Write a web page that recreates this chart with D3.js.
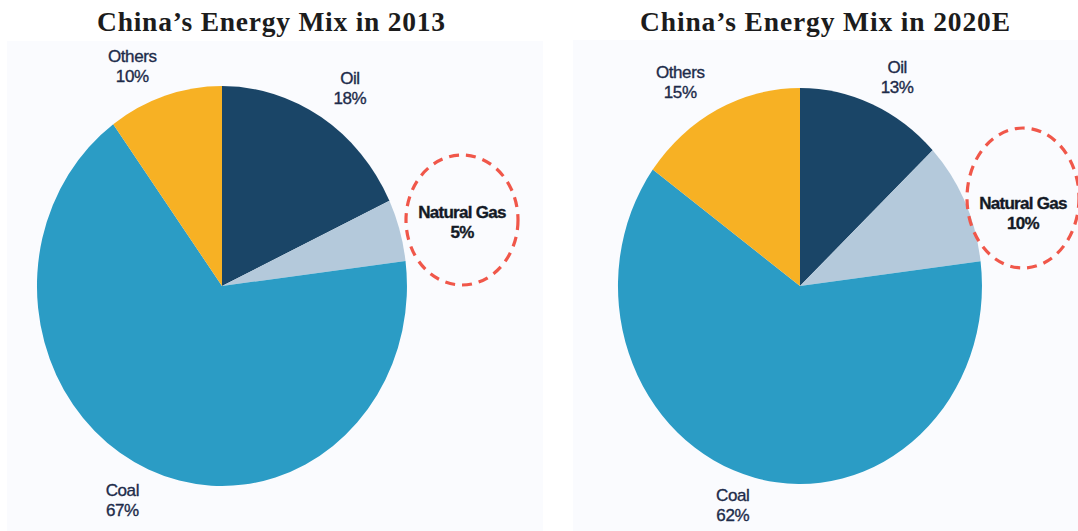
<!DOCTYPE html>
<html>
<head>
<meta charset="utf-8">
<script src="https://cdn.jsdelivr.net/npm/d3@7"></script>
<style>
  html, body { margin: 0; padding: 0; background: #ffffff; }
  svg { display: block; }
</style>
</head>
<body>
<svg id="chart" width="1078" height="531"></svg>
<script>
// Energy sources, clockwise from 12 o'clock
const sources = ["Oil", "Natural Gas", "Coal", "Others"];
const share2013 = [18, 5, 67, 10];
const share2020 = [13, 10, 62, 15];
const titles = ["China\u2019s Energy Mix in 2013", "China\u2019s Energy Mix in 2020E"];
const highlighted = "Natural Gas";

const colors = d3.scaleOrdinal()
  .domain(sources)
  .range(["#1a4567", "#b4c9db", "#2b9cc5", "#f7b124"]);

const svg = d3.select("#chart");

// per-panel layout
const panels = [
  { values: share2013, title: titles[0], titleX: 271, titleLen: 348,
    bg: [7, 41, 536, 490], cx: 222, cy: 286, rx: 185, ry: 200,
    ring: { cx: 462, cy: 220, rx: 56, ry: 65, labelY: 221.5 },
    nudge: { "Oil": [7, 0], "Coal": [-10, -1], "Others": [-20, 3] } },
  { values: share2020, title: titles[1], titleX: 825, titleLen: 370,
    bg: [573, 40, 505, 491], cx: 800, cy: 286, rx: 182, ry: 198,
    ring: { cx: 1023, cy: 198, rx: 56, ry: 70, labelY: 213 },
    nudge: { "Oil": [9, 4], "Coal": [-12, -5], "Others": [-19, 2] } }
];

const pie = d3.pie().sort(null).value(d => d.value);
const arc = d3.arc().innerRadius(0).outerRadius(1);

panels.forEach(p => {
  const g = svg.append("g");

  g.append("rect")
    .attr("x", p.bg[0]).attr("y", p.bg[1])
    .attr("width", p.bg[2]).attr("height", p.bg[3])
    .attr("fill", "#fafbfe");

  g.append("text")
    .attr("x", p.titleX).attr("y", 31)
    .attr("text-anchor", "middle")
    .attr("textLength", p.titleLen)
    .attr("lengthAdjust", "spacing")
    .style("font-family", "'Liberation Serif', 'Times New Roman', serif")
    .style("font-weight", "bold")
    .style("font-size", "27.5px")
    .attr("fill", "#1c1c1c")
    .text(p.title);

  const data = pie(sources.map((s, i) => ({ name: s, value: p.values[i] })));

  // unit-radius pie stretched to the panel's ellipse
  const pieG = g.append("g")
    .attr("transform", `translate(${p.cx},${p.cy}) scale(${p.rx},${p.ry})`);
  pieG.selectAll("path")
    .data(data)
    .join("path")
    .attr("d", arc)
    .attr("fill", d => colors(d.data.name));

  // two-line labels; (lx, ly) is the centre of the label block
  data.forEach(d => {
    const name = d.data.name;
    const isHi = name === highlighted;
    let lx, ly;
    if (isHi) {
      lx = p.ring.cx; ly = p.ring.labelY;
    } else {
      const mid = (d.startAngle + d.endAngle) / 2;
      lx = p.cx + p.rx * 1.22 * Math.sin(mid) + p.nudge[name][0];
      ly = p.cy - p.ry * 1.17 * Math.cos(mid) + p.nudge[name][1];
    }
    const ink = isHi ? "#141a26" : "#1d2b4a";
    const t = g.append("text")
      .attr("text-anchor", "middle")
      .style("font-family", "'Liberation Sans', Arial, sans-serif")
      .style("font-size", "17px")
      .style("font-weight", isHi ? "bold" : "normal")
      .style("letter-spacing", isHi ? "-0.7px" : "-0.4px")
      .attr("fill", ink)
      .attr("stroke", ink)
      .attr("stroke-width", 0.35);
    t.append("tspan").attr("x", lx).attr("y", ly - 4).text(name);
    t.append("tspan").attr("x", lx).attr("y", ly + 16).text(d.data.value + "%");
  });

  // dashed ring around the highlighted source
  g.append("ellipse")
    .attr("cx", p.ring.cx).attr("cy", p.ring.cy)
    .attr("rx", p.ring.rx).attr("ry", p.ring.ry)
    .attr("fill", "none")
    .attr("stroke", "#f0574a")
    .attr("stroke-width", 3.2)
    .attr("stroke-dasharray", "10 7");
});
</script>
</body>
</html>
